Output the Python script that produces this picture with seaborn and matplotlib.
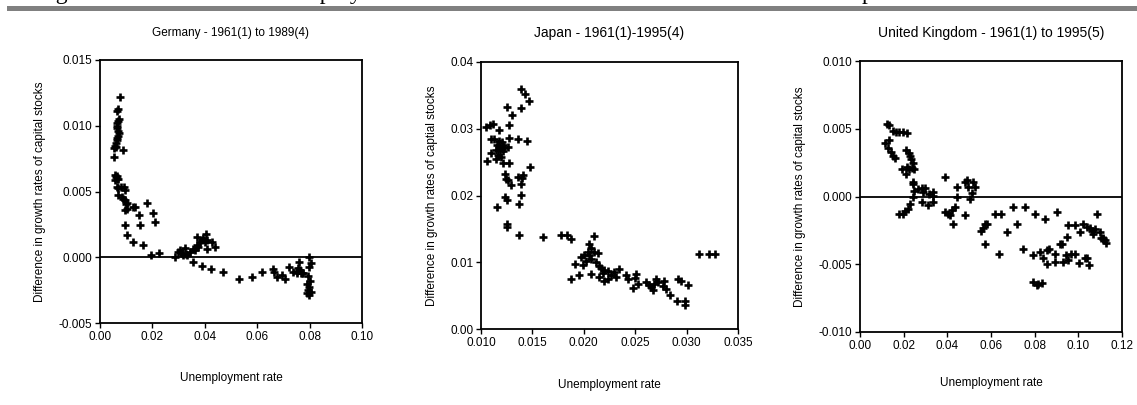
import numpy as np
import pandas as pd
import matplotlib
matplotlib.use("Agg")
import matplotlib.pyplot as plt
import seaborn as sns

# ---------------- data ----------------
de_u = [0.00763, 0.0070, 0.0066, 0.00725, 0.0070, 0.0066, 0.00636, 0.0066, 0.0070, 0.00725,
        0.0070, 0.0066, 0.00636, 0.0061, 0.00572, 0.00534, 0.0061, 0.00865, 0.00547, 0.00572,
        0.00636, 0.0061, 0.0066, 0.00572, 0.0070, 0.00636, 0.0070, 0.00789, 0.00916, 0.00954,
        0.0070, 0.00827, 0.0089, 0.00954, 0.01018, 0.00992, 0.00954, 0.01018, 0.01272, 0.01336,
        0.01501, 0.01781, 0.0201, 0.0210, 0.00954, 0.01526, 0.01018, 0.01272, 0.01628, 0.01933,
        0.02264, 0.02862, 0.02989, 0.03053, 0.03116, 0.0318, 0.03244, 0.03282, 0.03333, 0.03434,
        0.03536, 0.03625, 0.03689, 0.03689, 0.03752, 0.03816, 0.0388, 0.03943, 0.04007, 0.04045,
        0.0407, 0.04096, 0.04261, 0.04388, 0.03562, 0.0388, 0.04236, 0.04706, 0.05317, 0.05788,
        0.06169, 0.06589, 0.0664, 0.06767, 0.06932, 0.0706, 0.07225, 0.07378, 0.07505, 0.07568,
        0.07607, 0.07632, 0.07657, 0.07696, 0.07759, 0.07505, 0.07988, 0.08039, 0.07988, 0.0795,
        0.08014, 0.07912, 0.07988, 0.0795, 0.08039, 0.07912, 0.07988]
de_d = [0.01216, 0.01125, 0.01112, 0.01049, 0.01036, 0.01018, 0.00998, 0.0098, 0.00963, 0.00942,
        0.00922, 0.00904, 0.00892, 0.00871, 0.00846, 0.00828, 0.00836, 0.00816, 0.0076, 0.00625,
        0.00618, 0.00608, 0.00598, 0.00587, 0.00592, 0.00532, 0.00524, 0.00537, 0.00532, 0.00511,
        0.00473, 0.00461, 0.0044, 0.00435, 0.00415, 0.00405, 0.00359, 0.00364, 0.00385, 0.00382,
        0.00321, 0.0041, 0.00334, 0.00271, 0.00245, 0.00245, 0.00169, 0.00118, 0.00093, 0.00017,
        0.0003, 0.0, 0.00042, 0.00055, 0.0003, 0.00017, 0.00068, 0.00025, 0.00017, 0.00042,
        0.0006, 0.00055, 0.00093, 0.00151, 0.00075, 0.00118, 0.00131, 0.00144, 0.00118, 0.00177,
        0.0006, 0.00131, 0.00118, 0.00075, -0.00034, -0.00064, -0.00092, -0.0011, -0.00168, -0.00153,
        -0.0011, -0.00092, -0.00115, -0.00153, -0.00135, -0.00168, -0.00077, -0.00115, -0.00102, -0.00084,
        -0.00034, -0.00097, -0.00122, -0.00117, -0.00122, -0.00122, 0.0, -0.00046, -0.00077, -0.00143,
        -0.00178, -0.00204, -0.00224, -0.00249, -0.00262, -0.00275, -0.00287]

jp_u = [0.01389, 0.01428, 0.0147, 0.01253, 0.01389, 0.01298, 0.01276, 0.01114, 0.01091, 0.01049,
        0.01178, 0.01097, 0.01123, 0.01178, 0.01201, 0.01357, 0.01448, 0.01276, 0.01156, 0.01178,
        0.01211, 0.01227, 0.01259, 0.01146, 0.01188, 0.01211, 0.01097, 0.01162, 0.01195, 0.01146,
        0.01058, 0.01211, 0.01276, 0.0148, 0.01233, 0.01243, 0.01259, 0.01292, 0.01357, 0.01396,
        0.01405, 0.01389, 0.01233, 0.01253, 0.01389, 0.01373, 0.01156, 0.01253, 0.01253, 0.01373,
        0.0160, 0.01778, 0.01837, 0.01876, 0.02096, 0.02054, 0.0207, 0.02038, 0.02005, 0.01973,
        0.02054, 0.02103, 0.02135, 0.0207, 0.02022, 0.01989, 0.01915, 0.02119, 0.02151, 0.02167,
        0.0220, 0.02184, 0.02232, 0.02291, 0.02346, 0.02265, 0.02313, 0.0207, 0.02151, 0.02193,
        0.02232, 0.01957, 0.01876, 0.02411, 0.02427, 0.02508, 0.02498, 0.02476, 0.02524, 0.02605,
        0.02638, 0.02654, 0.0268, 0.02703, 0.02719, 0.0267, 0.02784, 0.02767, 0.0280, 0.02842,
        0.02913, 0.02946, 0.03011, 0.02907, 0.02985, 0.02985, 0.03124, 0.03222, 0.0328]
jp_d = [0.0360, 0.03526, 0.03411, 0.03326, 0.03311, 0.03201, 0.03051, 0.03076, 0.03051, 0.03026,
        0.02976, 0.02851, 0.02841, 0.02811, 0.02801, 0.02841, 0.02811, 0.02861, 0.02751, 0.02727,
        0.02751, 0.02712, 0.02727, 0.02677, 0.02677, 0.02662, 0.02642, 0.02602, 0.02577, 0.02542,
        0.02512, 0.02492, 0.02492, 0.02427, 0.02327, 0.02252, 0.02227, 0.02152, 0.02277, 0.02262,
        0.02302, 0.02177, 0.01977, 0.01927, 0.02002, 0.01878, 0.01828, 0.01578, 0.01528, 0.01403,
        0.01378, 0.01403, 0.01403, 0.01343, 0.01393, 0.01278, 0.01213, 0.01153, 0.01103, 0.01078,
        0.01103, 0.01153, 0.01143, 0.01054, 0.01014, 0.00954, 0.00979, 0.01004, 0.00944, 0.00914,
        0.00879, 0.00844, 0.00864, 0.00854, 0.00894, 0.00804, 0.00779, 0.00829, 0.00779, 0.00714,
        0.00754, 0.00804, 0.00744, 0.00804, 0.00744, 0.00829, 0.00764, 0.00614, 0.00679, 0.00704,
        0.00654, 0.00629, 0.00679, 0.00754, 0.00704, 0.00579, 0.00714, 0.00644, 0.00604, 0.00514,
        0.00744, 0.00714, 0.00654, 0.00414, 0.00414, 0.00364, 0.01128, 0.01128, 0.01128]

uk_u = [0.01252, 0.01343, 0.01527, 0.01649, 0.01802, 0.01954, 0.02168, 0.01145, 0.01343, 0.01298,
        0.01405, 0.01527, 0.01603, 0.02107, 0.0226, 0.0229, 0.02321, 0.02412, 0.02137, 0.0226,
        0.02366, 0.02473, 0.01908, 0.02107, 0.02412, 0.02443, 0.02473, 0.02412, 0.02672, 0.02824,
        0.02977, 0.0287, 0.03176, 0.03359, 0.03328, 0.02824, 0.0313, 0.03359, 0.0229, 0.02214,
        0.02061, 0.01802, 0.01954, 0.03893, 0.04458, 0.04809, 0.04885, 0.04962, 0.05191, 0.05267,
        0.05114, 0.05038, 0.04427, 0.04351, 0.03893, 0.04046, 0.04122, 0.04198, 0.04275, 0.04809,
        0.05527, 0.05618, 0.05725, 0.05801, 0.05725, 0.06183, 0.06443, 0.06382, 0.06748, 0.07023,
        0.07206, 0.07557, 0.07481, 0.07939, 0.08015, 0.08244, 0.08366, 0.08473, 0.0858, 0.08672,
        0.0858, 0.08931, 0.08931, 0.09038, 0.0916, 0.09237, 0.09313, 0.09435, 0.09542, 0.09542,
        0.09649, 0.09847, 0.09496, 0.09847, 0.10076, 0.10046, 0.10229, 0.10305, 0.10412, 0.10504,
        0.10382, 0.10534, 0.10611, 0.10687, 0.10763, 0.1087, 0.10992, 0.11023, 0.11145, 0.11221,
        0.11267, 0.11114, 0.07939, 0.08091, 0.08168, 0.0832]
uk_d = [0.00533, 0.00528, 0.00483, 0.00478, 0.00478, 0.00478, 0.00471, 0.00397, 0.00415, 0.00355,
        0.00331, 0.00299, 0.00282, 0.00341, 0.00323, 0.00299, 0.00274, 0.0025, 0.00218, 0.0020,
        0.00208, 0.0020, 0.0020, 0.00169, 0.0011, 0.0009, 0.00041, -0.00004, 0.00053, 0.00065,
        0.0006, 0.00036, 0.00016, 0.00036, 0.00004, -0.00038, -0.00063, -0.00038, -0.00053, -0.00095,
        -0.00107, -0.00127, -0.00127, 0.00144, 0.0007, 0.0011, 0.00119, 0.0007, 0.0011, 0.0007,
        0.00028, -0.00021, -0.00004, -0.00077, -0.00112, -0.00127, -0.00137, -0.00102, -0.0020, -0.00137,
        -0.00255, -0.0023, -0.0020, -0.0020, -0.00353, -0.00127, -0.00127, -0.00422, -0.0026, -0.00077,
        -0.0020, -0.00077, -0.0039, -0.00432, -0.00127, -0.00407, -0.00451, -0.00169, -0.00397, -0.0039,
        -0.00496, -0.00422, -0.00481, -0.00112, -0.00348, -0.00348, -0.00481, -0.00432, -0.00471, -0.00213,
        -0.00427, -0.00422, -0.00299, -0.00213, -0.0026, -0.00488, -0.0020, -0.00451, -0.00451, -0.00506,
        -0.00225, -0.0023, -0.00255, -0.00279, -0.00242, -0.00127, -0.0026, -0.00304, -0.00304, -0.00323,
        -0.00341, -0.00316, -0.00629, -0.00653, -0.00643, -0.00636]

titles = ["Germany - 1961(1) to 1989(4)", "Japan - 1961(1)-1995(4)",
          "United Kingdom - 1961(1) to 1995(5)"]
ylabels = ["Difference in growth rates of capital stocks",
           "Difference in growth rates of captial stocks",
           "Difference in growth rates of capital stocks"]
xlabel = "Unemployment rate"

de_xticks = [0.00, 0.02, 0.04, 0.06, 0.08, 0.10]
de_yticks = [-0.005, 0.000, 0.005, 0.010, 0.015]
jp_xticks = [0.010, 0.015, 0.020, 0.025, 0.030, 0.035]
jp_yticks = [0.00, 0.01, 0.02, 0.03, 0.04]
uk_xticks = [0.00, 0.02, 0.04, 0.06, 0.08, 0.10, 0.12]
uk_yticks = [-0.010, -0.005, 0.000, 0.005, 0.010]

# ---------------- style ----------------
sns.set_theme(style="white")
plt.rcParams["font.family"] = ["Liberation Sans", "DejaVu Sans"]
plt.rcParams["axes.edgecolor"] = "black"
plt.rcParams["axes.linewidth"] = 1.2

W, H = 1137, 405
fig = plt.figure(figsize=(W / 100, H / 100), dpi=100)

def px_axes(left, top, right, bottom):
    return fig.add_axes([left / W, (H - bottom) / H, (right - left) / W, (bottom - top) / H])

panels = [
    dict(box=(100, 60, 362, 323), x=de_u, y=de_d, xt=de_xticks, yt=de_yticks,
         xf="{:.2f}", yf="{:.3f}", zero=True, tsize=8.5, xlab_y=378),
    dict(box=(481, 62, 738, 329), x=jp_u, y=jp_d, xt=jp_xticks, yt=jp_yticks,
         xf="{:.3f}", yf="{:.2f}", zero=False, tsize=10, xlab_y=385),
    dict(box=(860, 61, 1122, 332), x=uk_u, y=uk_d, xt=uk_xticks, yt=uk_yticks,
         xf="{:.2f}", yf="{:.3f}", zero=True, tsize=10, xlab_y=383),
]

for i, p in enumerate(panels):
    ax = px_axes(*p["box"])
    df = pd.DataFrame({"u": p["x"], "d": p["y"]})
    if p["zero"]:
        ax.axhline(0, color="black", lw=1.3, zorder=1)
    sns.scatterplot(data=df, x="u", y="d", marker="+", color="black", s=40,
                    linewidth=1.9, ax=ax, zorder=3)
    ax.set_xlim(p["xt"][0], p["xt"][-1])
    ax.set_ylim(p["yt"][0], p["yt"][-1])
    ax.set_xticks(p["xt"])
    ax.set_yticks(p["yt"])
    ax.set_xticklabels([p["xf"].format(v) for v in p["xt"]])
    ax.set_yticklabels([p["yf"].format(v) for v in p["yt"]])
    ax.tick_params(axis="both", which="both", direction="out", length=3.5, width=1.0,
                   labelsize=8.5, colors="black", pad=2, bottom=True, left=True)
    for s in ax.spines.values():
        s.set_visible(True)
        s.set_color("black")
        s.set_linewidth(1.3)
    ax.set_xlabel("")
    ax.set_ylabel(ylabels[i], fontsize=8.5, labelpad=9, color="black")
    left, top, right, bottom = p["box"]
    cx = (left + right) / 2 / W
    fig.text(cx, 1 - 33 / H, titles[i], ha="center", va="center", fontsize=p["tsize"], color="black")
    fig.text(cx, 1 - p["xlab_y"] / H, xlabel, ha="center", va="center", fontsize=8.5, color="black")

# header fragments of the document page (cut off at the top, as in the reference)
fig.patches.append(plt.Rectangle((7 / W, 1 - 11 / H), 1 - 7 / W, 5 / H, transform=fig.transFigure,
                                 color="#808080", lw=0))
for txt, xp in [("Figure", 36), ("Unemployment", 262), ("capital", 841)]:
    fig.text(xp / W, 1 + 1.5 / H, txt, ha="left", va="baseline", fontsize=17,
             family=["Liberation Serif", "DejaVu Serif"], color="black")

fig.savefig("out.png", dpi=100)
